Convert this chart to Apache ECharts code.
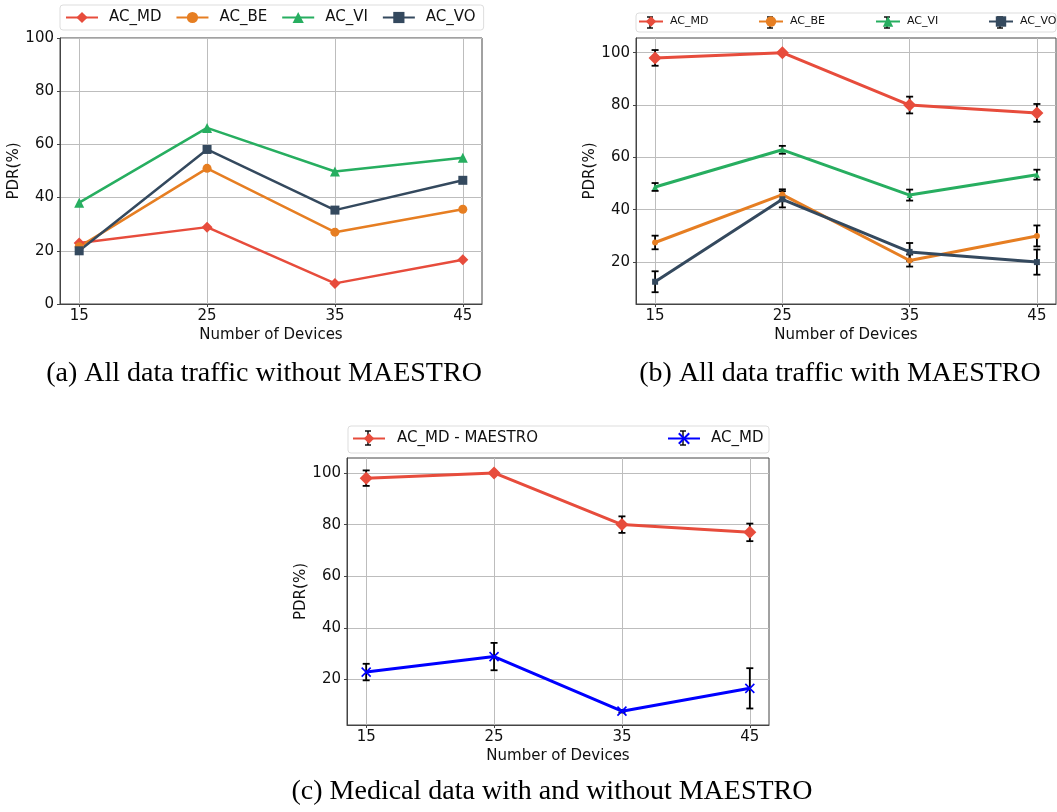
<!DOCTYPE html>
<html>
<head>
<meta charset="utf-8">
<script src="https://cdn.jsdelivr.net/npm/echarts@6/dist/echarts.min.js"></script>
<style>
  html, body { margin: 0; padding: 0; background: #fff; }
  #main { width: 1057px; height: 812px; }
</style>
</head>
<body>
<div id="main"></div>
<script>
// ---- data ----
const devices = [15, 25, 35, 45];

// (a) without MAESTRO
const aMD = [22.9, 28.9, 7.75, 16.6];
const aBE = [21.5, 51.0, 27.0, 35.6];
const aVI = [38.1, 66.2, 49.8, 55.0];
const aVO = [20.0, 58.1, 35.3, 46.5];

// (b) with MAESTRO (mean and error)
const bMD = [98.0, 100.0, 80.0, 77.0];
const bMDErr = [3.0, 0.3, 3.2, 3.4];
const bBE = [27.5, 45.8, 20.6, 30.0];
const bBEErr = [2.6, 2.0, 2.3, 4.0];
const bVI = [48.7, 62.9, 45.6, 53.4];
const bVIErr = [1.5, 1.5, 2.1, 1.9];
const bVO = [12.5, 44.0, 23.9, 20.0];
const bVOErr = [4.0, 3.1, 3.4, 4.8];

// (c) medical data, AC_MD without MAESTRO error
const cMDErr = [3.2, 5.3, 0.5, 7.8];

const yTicksA = [0, 20, 40, 60, 80, 100];
const yTicksB = [20, 40, 60, 80, 100];

const RED = '#e74c3c', ORANGE = '#e67e22', GREEN = '#27ae60', DARK = '#34495e', BLUE = '#0000ff';
const FONT = 'DejaVu Sans';

function pts(vals) { return devices.map((d, i) => [d, vals[i]]); }

function xAxisFor(gridIndex) {
  return {
    type: 'value', gridIndex: gridIndex, min: 13.5, max: 46.5,
    name: 'Number of Devices', nameLocation: 'middle', nameGap: 24,
    nameTextStyle: {fontSize: 15, color: '#111', fontFamily: FONT},
    axisLine: {show: true, onZero: false, lineStyle: {color: '#444', width: 1}},
    axisTick: {show: true, customValues: devices, length: 3, lineStyle: {color: '#444'}},
    axisLabel: {customValues: devices, fontSize: 15, color: '#111', fontFamily: FONT, margin: 5},
    splitLine: {show: true, lineStyle: {color: '#bdbdbd', width: 1}}
  };
}

function yAxisFor(gridIndex, min, max, ticks) {
  return {
    type: 'value', gridIndex: gridIndex, min: min, max: max,
    name: 'PDR(%)', nameLocation: 'middle', nameGap: 33, nameRotate: 90,
    nameTextStyle: {fontSize: 15, color: '#111', fontFamily: FONT},
    axisLine: {show: true, onZero: false, lineStyle: {color: '#444', width: 1}},
    axisTick: {show: true, customValues: ticks, length: 3, lineStyle: {color: '#444'}},
    axisLabel: {customValues: ticks, fontSize: 15, color: '#111', fontFamily: FONT, margin: 6},
    splitLine: {show: true, lineStyle: {color: '#bdbdbd', width: 1}}
  };
}

function lineSeries(name, idx, vals, color, symbol, size, width) {
  return {
    name: name, type: 'line', xAxisIndex: idx, yAxisIndex: idx,
    data: pts(vals), symbol: symbol, symbolSize: size, showAllSymbol: true,
    lineStyle: {color: color, width: width},
    itemStyle: {color: color, borderColor: color, borderWidth: symbol.indexOf('path') === 0 ? 1.6 : 0},
    z: 3
  };
}

function errorSeries(idx, vals, errs) {
  return {
    type: 'custom', xAxisIndex: idx, yAxisIndex: idx, z: 1, silent: true,
    data: devices.map((d, i) => [d, vals[i], errs[i]]),
    renderItem: function (params, api) {
      const x = api.value(0), y = api.value(1), e = api.value(2);
      const top = api.coord([x, y + e]);
      const bot = api.coord([x, y - e]);
      const w = 3.5;
      const st = {stroke: '#000', lineWidth: 1.8};
      return {
        type: 'group',
        children: [
          {type: 'line', shape: {x1: top[0], y1: top[1], x2: bot[0], y2: bot[1]}, style: st},
          {type: 'line', shape: {x1: top[0] - w, y1: top[1], x2: top[0] + w, y2: top[1]}, style: st},
          {type: 'line', shape: {x1: bot[0] - w, y1: bot[1], x2: bot[0] + w, y2: bot[1]}, style: st}
        ]
      };
    }
  };
}

const crossPath = 'path://M0,0L10,10M10,0L0,10';
const stripName = n => n.split(':').pop();

function smallLegend(name, left, top, fontSize, itemWidth, gap) {
  return {
    data: [name], left: left, top: top, padding: 0, itemWidth: itemWidth, itemHeight: 13,
    formatter: stripName, selectedMode: false,
    textStyle: {fontSize: fontSize, color: '#111', fontFamily: FONT, padding: [0, 0, 0, gap]}
  };
}

// black error-bar glyph drawn over the legend icons of (b) and (c)
function legendBar(cx, cy, h) {
  const st = {stroke: '#000', lineWidth: 1.4};
  return {type: 'group', z: 100, children: [
    {type: 'line', shape: {x1: cx, y1: cy - h, x2: cx, y2: cy + h}, style: st},
    {type: 'line', shape: {x1: cx - 3, y1: cy - h, x2: cx + 3, y2: cy - h}, style: st},
    {type: 'line', shape: {x1: cx - 3, y1: cy + h, x2: cx + 3, y2: cy + h}, style: st}
  ]};
}

function caption(text, x, y) {
  return {type: 'text', style: {text: text, x: x, y: y, align: 'center', verticalAlign: 'middle',
    font: '28px "Liberation Serif"', fill: '#000'}};
}

const chart = echarts.init(document.getElementById('main'));
const option = {
  animation: false,
  backgroundColor: '#fff',
  grid: [
    {left: 60, top: 38, width: 422, height: 266, show: true, borderColor: '#444', borderWidth: 1, containLabel: false},
    {left: 636, top: 38, width: 420, height: 266, show: true, borderColor: '#444', borderWidth: 1, containLabel: false},
    {left: 347, top: 458, width: 422, height: 267, show: true, borderColor: '#444', borderWidth: 1, containLabel: false}
  ],
  xAxis: [xAxisFor(0), xAxisFor(1), xAxisFor(2)],
  yAxis: [
    yAxisFor(0, 0, 100, yTicksA),
    yAxisFor(1, 4, 105.6, yTicksB),
    yAxisFor(2, 2.4, 105.8, yTicksB)
  ],
  legend: [
    {
      data: ['AC_MD', 'AC_BE', 'AC_VI', 'AC_VO'], left: 60, top: 5, padding: [5, 8, 5, 5],
      itemWidth: 32, itemHeight: 14, itemGap: 14, selectedMode: false,
      borderColor: '#dddddd', borderWidth: 1, borderRadius: 3, backgroundColor: '#fff',
      textStyle: {fontSize: 15, color: '#111', fontFamily: FONT, padding: [0, 0, 0, 6]}
    },
    smallLegend('b:AC_MD', 638, 16, 11, 24, 2),
    smallLegend('b:AC_BE', 758, 16, 11, 24, 2),
    smallLegend('b:AC_VI', 875, 16, 11, 24, 2),
    smallLegend('b:AC_VO', 988, 16, 11, 24, 2),
    smallLegend('AC_MD - MAESTRO', 352, 431, 15, 32, 7),
    smallLegend('c:AC_MD', 667, 431, 15, 32, 6)
  ],
  graphic: [
    {type: 'rect', z: -1, shape: {x: 636, y: 13, width: 420, height: 19, r: 3},
      style: {fill: '#fff', stroke: '#dddddd', lineWidth: 1}},
    {type: 'rect', z: -1, shape: {x: 348, y: 426, width: 421, height: 27, r: 3},
      style: {fill: '#fff', stroke: '#dddddd', lineWidth: 1}},
    legendBar(650, 22.5, 5.5),
    legendBar(770, 22.5, 5.5),
    legendBar(887, 22.5, 5.5),
    legendBar(1000, 22.5, 5.5),
    legendBar(368, 438, 7),
    legendBar(683, 438, 7),
    caption('(a) All data traffic without MAESTRO', 264, 374),
    caption('(b) All data traffic with MAESTRO', 840, 374),
    caption('(c) Medical data with and without MAESTRO', 552, 792)
  ],
  series: [
    // (a)
    lineSeries('AC_MD', 0, aMD, RED, 'diamond', 11, 2.5),
    lineSeries('AC_BE', 0, aBE, ORANGE, 'circle', 9, 2.5),
    lineSeries('AC_VI', 0, aVI, GREEN, 'triangle', 10, 2.5),
    lineSeries('AC_VO', 0, aVO, DARK, 'rect', 9, 2.5),
    // (b)
    errorSeries(1, bMD, bMDErr),
    errorSeries(1, bBE, bBEErr),
    errorSeries(1, bVI, bVIErr),
    errorSeries(1, bVO, bVOErr),
    lineSeries('b:AC_MD', 1, bMD, RED, 'diamond', 13, 3),
    lineSeries('b:AC_BE', 1, bBE, ORANGE, 'circle', 6, 3),
    lineSeries('b:AC_VI', 1, bVI, GREEN, 'triangle', 6, 3),
    lineSeries('b:AC_VO', 1, bVO, DARK, 'rect', 6, 3),
    // (c)
    errorSeries(2, bMD, bMDErr),
    errorSeries(2, aMD, cMDErr),
    lineSeries('AC_MD - MAESTRO', 2, bMD, RED, 'diamond', 13, 3),
    lineSeries('c:AC_MD', 2, aMD, BLUE, crossPath, 9, 3)
  ]
};
chart.setOption(option);
</script>
</body>
</html>
